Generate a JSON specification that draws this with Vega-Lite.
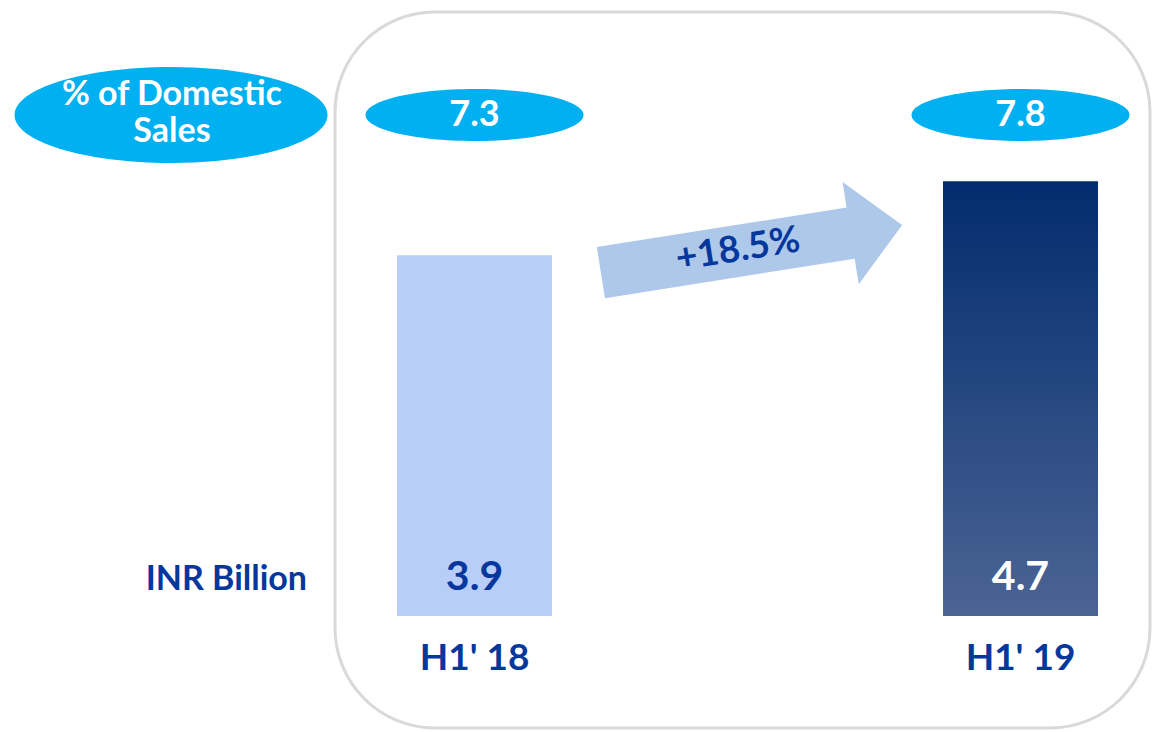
{
  "$schema": "https://vega.github.io/schema/vega-lite/v6.json",
  "width": 815,
  "height": 716,
  "autosize": {"type": "none"},
  "padding": {"left": 335, "top": 12, "right": 5, "bottom": 4},
  "background": "white",
  "config": {
    "view": {"stroke": "#d9d9d9", "strokeWidth": 3, "cornerRadius": 100, "fill": "white"},
    "font": "Lato",
    "text": {"font": "Lato", "fontWeight": "bold"}
  },
  "datasets": {
    "sales": [
      {"period": "H1' 18", "value": 3.9, "share": 7.3},
      {"period": "H1' 19", "value": 4.7, "share": 7.8}
    ],
    "growth": [
      {"period": "H1' 18", "label": "+18.5%"}
    ],
    "notes": [
      {"label": "% of Domestic\nSales", "unit": "INR Billion"}
    ]
  },
  "layer": [
    {
      "data": {"name": "sales"},
      "mark": {"type": "bar"},
      "encoding": {
        "x": {
          "field": "period", "type": "nominal", "sort": null,
          "scale": {"domain": ["H1' 18", "H1' 19"], "paddingInner": 0.7161, "paddingOuter": 0.1044, "align": 0.544},
          "axis": {
            "orient": "bottom", "offset": -70, "domain": false, "ticks": false, "tickSize": 0,
            "labelPadding": 0, "labelBaseline": "middle", "labelAngle": 0,
            "labelFont": "Lato", "labelFontSize": 37, "labelFontWeight": "bold", "labelColor": "#06379d",
            "title": null, "grid": false
          }
        },
        "y": {
          "field": "value", "type": "quantitative",
          "scale": {"domain": [-1.211, 6.53], "nice": false, "zero": false},
          "axis": null
        },
        "color": {
          "condition": {
            "test": "datum.period === \"H1' 19\"",
            "value": {
              "gradient": "linear", "x1": 0, "y1": 0, "x2": 0, "y2": 1,
              "stops": [{"offset": 0, "color": "#022c6e"}, {"offset": 1, "color": "#4b6494"}]
            }
          },
          "value": "#b8cef9"
        }
      }
    },
    {
      "data": {"name": "sales"},
      "mark": {"type": "text", "fontSize": 41, "baseline": "middle", "align": "center"},
      "encoding": {
        "x": {"field": "period", "type": "nominal", "sort": null, "scale": {"domain": ["H1' 18", "H1' 19"]}},
        "y": {"datum": 0.41, "type": "quantitative", "scale": {"domain": [-1.211, 6.53], "nice": false, "zero": false}},
        "text": {"field": "value", "type": "quantitative", "format": ".1f"},
        "color": {"condition": {"test": "datum.period === \"H1' 19\"", "value": "white"}, "value": "#06379d"}
      }
    },
    {
      "data": {"name": "sales"},
      "mark": {
        "type": "point", "filled": true, "opacity": 1, "strokeWidth": 0, "color": "#00b0f0",
        "shape": "M -1 0 A 1 0.2385 0 1 0 1 0 A 1 0.2385 0 1 0 -1 0 Z", "size": 47524
      },
      "encoding": {
        "x": {"field": "period", "type": "nominal", "sort": null, "scale": {"domain": ["H1' 18", "H1' 19"]}},
        "y": {"datum": 5.416, "type": "quantitative", "scale": {"domain": [-1.211, 6.53], "nice": false, "zero": false}}
      }
    },
    {
      "data": {"name": "sales"},
      "mark": {"type": "text", "fontSize": 36, "baseline": "middle", "align": "center", "color": "white"},
      "encoding": {
        "x": {"field": "period", "type": "nominal", "sort": null, "scale": {"domain": ["H1' 18", "H1' 19"]}},
        "y": {"datum": 5.416, "type": "quantitative", "scale": {"domain": [-1.211, 6.53], "nice": false, "zero": false}},
        "text": {"field": "share", "type": "quantitative", "format": ".1f"}
      }
    },
    {
      "data": {"name": "growth"},
      "mark": {
        "type": "point", "filled": true, "opacity": 1, "strokeWidth": 0, "color": "#aec8ea", "angle": -9,
        "shape": "M -1 -0.17 L 0.658 -0.17 L 0.658 -0.34 L 1 0 L 0.658 0.34 L 0.658 0.17 L -1 0.17 Z",
        "size": 93025
      },
      "encoding": {
        "x": {"field": "period", "type": "nominal", "sort": null, "bandPosition": 2.287, "scale": {"domain": ["H1' 18", "H1' 19"]}},
        "y": {"datum": 3.97, "type": "quantitative", "scale": {"domain": [-1.211, 6.53], "nice": false, "zero": false}}
      }
    },
    {
      "data": {"name": "growth"},
      "mark": {"type": "text", "fontSize": 37, "baseline": "middle", "align": "center", "angle": -9, "color": "#06379d"},
      "encoding": {
        "x": {"field": "period", "type": "nominal", "sort": null, "bandPosition": 2.2, "scale": {"domain": ["H1' 18", "H1' 19"]}},
        "y": {"datum": 3.957, "type": "quantitative", "scale": {"domain": [-1.211, 6.53], "nice": false, "zero": false}},
        "text": {"field": "label"}
      }
    },
    {
      "data": {"name": "notes"},
      "mark": {
        "type": "point", "filled": true, "opacity": 1, "strokeWidth": 0, "color": "#00b0f0",
        "shape": "M -1 0 A 1 0.3067 0 1 0 1 0 A 1 0.3067 0 1 0 -1 0 Z", "size": 97969
      },
      "encoding": {
        "x": {"datum": "H1' 18", "type": "nominal", "bandPosition": -1.458, "scale": {"domain": ["H1' 18", "H1' 19"]}},
        "y": {"datum": 5.416, "type": "quantitative", "scale": {"domain": [-1.211, 6.53], "nice": false, "zero": false}}
      }
    },
    {
      "data": {"name": "notes"},
      "mark": {"type": "text", "fontSize": 34, "baseline": "middle", "align": "center", "color": "white", "lineBreak": "\n", "lineHeight": 37},
      "encoding": {
        "x": {"datum": "H1' 18", "type": "nominal", "bandPosition": -1.452, "scale": {"domain": ["H1' 18", "H1' 19"]}},
        "y": {"datum": 5.63, "type": "quantitative", "scale": {"domain": [-1.211, 6.53], "nice": false, "zero": false}},
        "text": {"field": "label"}
      }
    },
    {
      "data": {"name": "notes"},
      "mark": {"type": "text", "fontSize": 34, "baseline": "middle", "align": "right", "color": "#06379d"},
      "encoding": {
        "x": {"datum": "H1' 18", "type": "nominal", "bandPosition": -0.5806, "scale": {"domain": ["H1' 18", "H1' 19"]}},
        "y": {"datum": 0.389, "type": "quantitative", "scale": {"domain": [-1.211, 6.53], "nice": false, "zero": false}},
        "text": {"field": "unit"}
      }
    }
  ]
}
